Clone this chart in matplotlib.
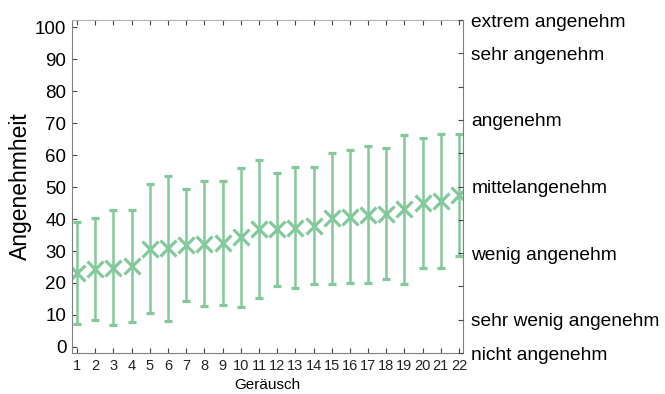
import numpy as np
import matplotlib.pyplot as plt

plt.rcParams['font.family'] = ['Liberation Sans', 'DejaVu Sans']

# mean rating and standard deviation per noise
geraeusch = np.arange(1, 23)
mittelwert = [23.1, 24.4, 24.8, 25.3, 30.7, 30.9, 31.9, 32.3, 32.6, 34.3, 36.8,
              36.8, 37.3, 37.9, 40.2, 40.7, 41.4, 41.7, 43.0, 44.9, 45.7, 47.5]
std = [15.9, 16.0, 17.9, 17.5, 20.1, 22.7, 17.6, 19.5, 19.4, 21.8, 21.6,
       17.7, 19.0, 18.3, 20.4, 20.8, 21.3, 20.5, 23.2, 20.3, 21.0, 19.2]

skala_pos = [0, 1, 3, 5, 7, 9, 10]
skala_text = ['nicht angenehm', 'sehr wenig angenehm', 'wenig angenehm',
              'mittelangenehm', 'angenehm', 'sehr angenehm', 'extrem angenehm']

gruen = '#84c99b'
grau = '#808080'

fig = plt.figure(figsize=(6.65, 3.94), dpi=100)
ax = fig.add_axes([0.1083, 0.104, 0.5879, 0.845])

ax.errorbar(geraeusch, mittelwert, yerr=std, fmt='x', color=gruen,
            markersize=11, markeredgewidth=2.3, elinewidth=1.8,
            capsize=3, capthick=1.8)

ax.set_xlim(0.72, 22.22)
ax.set_ylim(-1.9, 102.2)
ax.set_xticks(geraeusch)
ax.set_yticks(np.arange(0, 101, 10))
ax.tick_params(axis='x', direction='in', top=True, length=3.5, width=0.8,
               labelsize=10.5, pad=4, color='#444444', labelcolor='#222222')
ax.tick_params(axis='y', direction='in', length=3.5, width=0.8,
               labelsize=13.5, pad=4, color='#444444')
for side in ['left', 'bottom', 'right']:
    ax.spines[side].set_color(grau)
ax.spines['top'].set_color('#b0b0b0')

ax.set_xlabel('Geräusch', fontsize=11, labelpad=4)
ax.set_ylabel('Angenehmheit', fontsize=16.5, labelpad=2)

# verbal rating scale on the right side
ax2 = ax.twinx()
ax2.set_ylim(0, 10)
ax2.set_yticks(np.arange(0, 11))
labels = ['' for _ in range(11)]
for p, t in zip(skala_pos, skala_text):
    labels[p] = t
ax2.set_yticklabels(labels)
ax2.tick_params(axis='y', direction='in', length=3.5, width=0.8,
                labelsize=13.8, pad=6, color='#444444')
for side in ['left', 'bottom', 'right', 'top']:
    ax2.spines[side].set_visible(False)

fig.savefig('out.png', dpi=100)
